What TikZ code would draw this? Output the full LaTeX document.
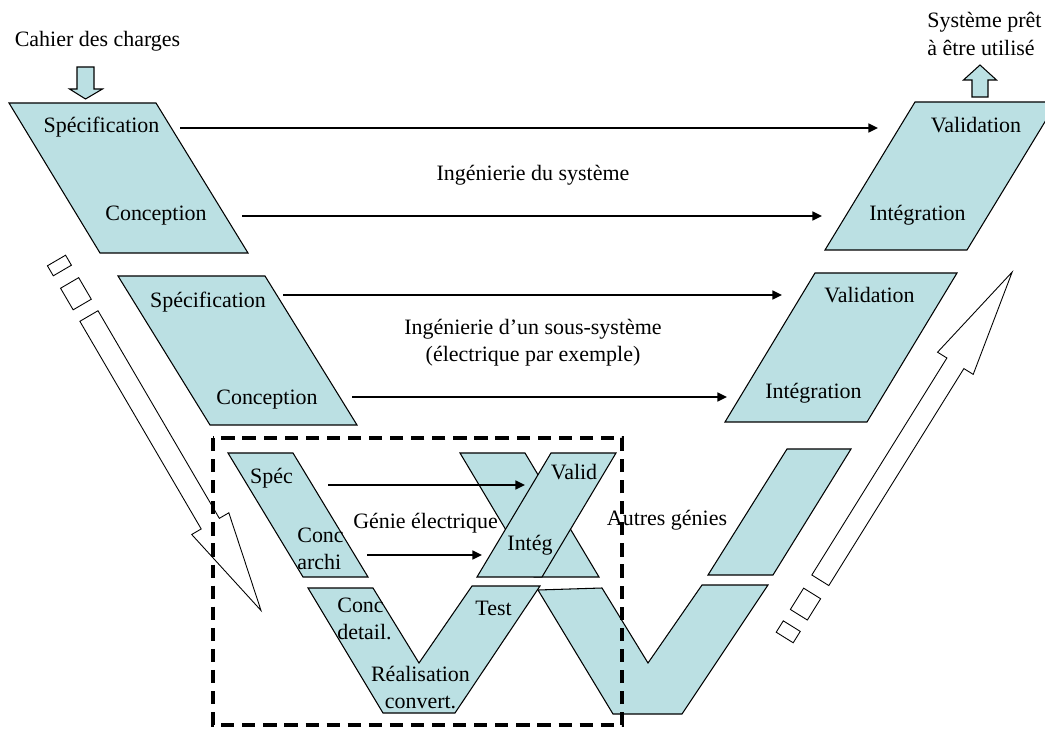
\documentclass[tikz,border=0pt]{standalone}
\usepackage{fontspec}
\setmainfont{Liberation Serif}
\usetikzlibrary{arrows.meta}
\definecolor{phasefill}{RGB}{187,224,227}
\tikzstyle{phase} = [draw=black, line width=0.6pt, fill=phasefill]
\tikzstyle{txt} = [inner sep=0pt]
\tikzstyle{arrow} = [line width=1.2pt, -{Triangle[length=5.5pt,width=5pt]}]
\tikzstyle{hollow} = [draw=black, line width=0.5pt, fill=white]
\tikzstyle{zonebox} = [line width=2.2pt, dash pattern=on 7.5pt off 4.5pt]

\begin{document}
\begin{tikzpicture}[x=0.02cm, y=-0.02cm, font=\fontsize{12.5}{15.5}\selectfont]
    \useasboundingbox (0,0) rectangle (1045,729);

    % Phases
    \draw[phase] (9,103) -- (156,103) -- (248,253) -- (100,253) -- cycle;
    \draw[phase] (825,250) -- (967,250) -- (1057,102) -- (915,102) -- cycle;
    \draw[phase] (118,276) -- (265,276) -- (357,425) -- (210,425) -- cycle;
    \draw[phase] (725,422) -- (867,422) -- (957,273) -- (815,273) -- cycle;
    \draw[phase] (228,453) -- (293,453) -- (368,577) -- (303,577) -- cycle;
    \draw[phase] (460,453) -- (525,453) -- (599,577) -- (534,577) -- cycle;
    \draw[phase] (477,577) -- (542,577) -- (616,453) -- (551,453) -- cycle;
    \draw[phase] (708,575) -- (773,575) -- (851,449) -- (787,449) -- cycle;
    \draw[phase] (308,588) -- (373,588) -- (419,663) -- (472,586) -- (540,586) -- (455,713) -- (383,713) -- cycle;
    \draw[phase] (538,590) -- (602,588) -- (648,663) -- (702,585) -- (768,585) -- (682,714) -- (613,714) -- cycle;

    % In and out
    \draw[phase] (77,67) -- (94,67) -- (94,89) -- (102.5,89) -- (85.5,99) -- (69.5,89) -- (77,89) -- cycle;
    \draw[phase] (972,97) -- (988,97) -- (988,80) -- (996.5,80) -- (980,65) -- (963.5,80) -- (972,80) -- cycle;

    % Descent and ascent
    \begin{scope}[shift={(56.5,260.5)}, rotate=-59.7]
        \draw[hollow] (0,-10.5) -- (11.6,-10.5) -- (11.6,10.5) -- (0,10.5) -- cycle;
        \draw[hollow] (26,-10.5) -- (51,-10.5) -- (51,10.5) -- (26,10.5) -- cycle;
        \draw[hollow] (64.3,-10.5) -- (304.8,-10.5) -- (304.8,-21.5) -- (405.4,0) -- (304.8,21.5) -- (304.8,10.5) -- (64.3,10.5) -- cycle;
    \end{scope}
    \begin{scope}[shift={(784.7,637.5)}, rotate=58.1]
        \draw[hollow] (0,-10) -- (13.4,-10) -- (13.4,10) -- (0,10) -- cycle;
        \draw[hollow] (26.8,-10) -- (51.9,-10) -- (51.9,10) -- (26.8,10) -- cycle;
        \draw[hollow] (67.4,-10) -- (323,-10) -- (323,-21) -- (430.5,0) -- (323,21) -- (323,10) -- (67.4,10) -- cycle;
    \end{scope}

    % Nodes
    \node (cahier) [txt] at (97.5,41) {Cahier des charges};
    \node (ready) [txt, anchor=west, align=left] at (927,34) {Système prêt\\à être utilisé};
    \node (sysspec) [txt] at (101.5,127) {Spécification};
    \node (sysconc) [txt] at (156,216) {Conception};
    \node (sysval) [txt] at (976,125) {Validation};
    \node (sysint) [txt] at (917.5,215) {Intégration};
    \node (subspec) [txt] at (208,302) {Spécification};
    \node (subconc) [txt] at (267,400) {Conception};
    \node (subval) [txt] at (869.5,295) {Validation};
    \node (subint) [txt] at (813.5,393) {Intégration};
    \node (elecspec) [txt] at (271.5,478) {Spéc};
    \node (elecarchi) [txt, anchor=west, align=left] at (297,548.5) {Conc\\archi};
    \node (elecval) [txt] at (574,472) {Valid};
    \node (elecint) [txt] at (530,545) {Intég};
    \node (elecdet) [txt, anchor=west, align=left] at (337,618.5) {Conc\\detail.};
    \node (electest) [txt] at (493.5,608) {Test};
    \node (elecreal) [txt, align=center] at (420.5,687.5) {Réalisation\\convert.};

    % Arrows
    \coordinate (sysspecout) at (180,128);
    \coordinate (sysvalin) at (878,128);
    \coordinate (sysconcout) at (242,216);
    \coordinate (sysintin) at (822,216);
    \coordinate (subspecout) at (283,295);
    \coordinate (subvalin) at (782,295);
    \coordinate (subconcout) at (352,397);
    \coordinate (subintin) at (727,397);
    \coordinate (elecspecout) at (328,485);
    \coordinate (elecvalin) at (525,485);
    \coordinate (elecarchiout) at (367,555);
    \coordinate (elecintin) at (482,555);
    \draw[arrow] (sysspecout) -- (sysvalin);
    \draw[arrow] (sysconcout) -- (sysintin);
    \draw[arrow] (subspecout) -- (subvalin);
    \draw[arrow] (subconcout) -- (subintin);
    \draw[arrow] (elecspecout) -- (elecvalin);
    \draw[arrow] (elecarchiout) -- (elecintin);

    % Labels
    \node (sysname) [txt] at (533,175) {Ingénierie du système};
    \node (subname) [txt, align=center] at (533,342.5) {Ingénierie d’un sous-système\\(électrique par exemple)};
    \node (elecname) [txt] at (425.5,523) {Génie électrique};
    \node (othername) [txt] at (667,520) {Autres génies};

    % Electrical zone
    \draw[zonebox] (213,438) rectangle (622,725);

\end{tikzpicture}
\end{document}
